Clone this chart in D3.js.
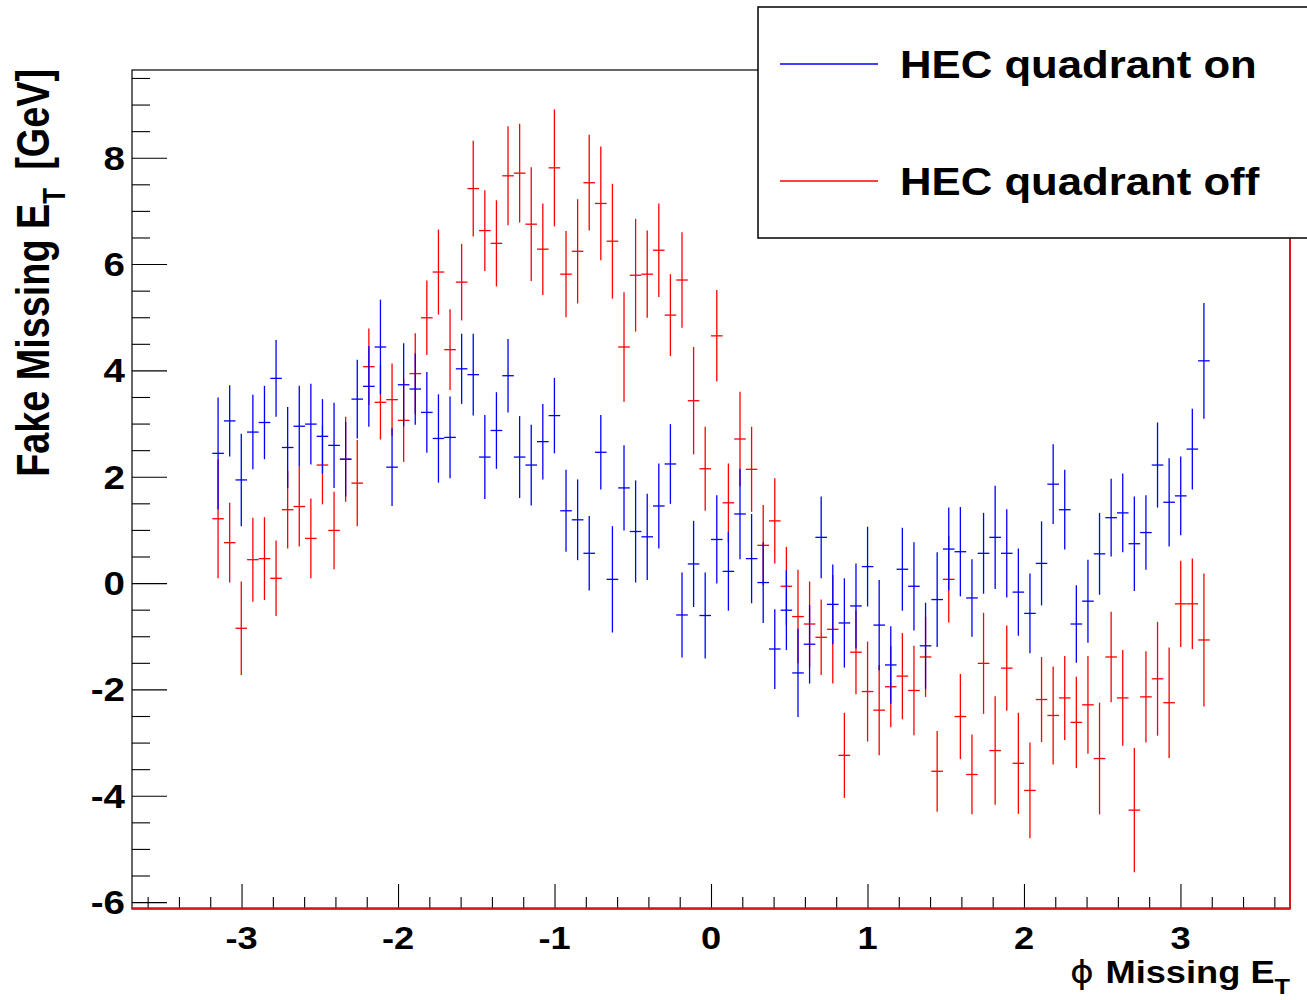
<!DOCTYPE html>
<html>
<head>
<meta charset="utf-8">
<script src="https://cdn.jsdelivr.net/npm/d3@7"></script>
<style>
  html, body { margin: 0; padding: 0; background: #fff; }
  svg { display: block; }
  text { font-family: "Liberation Sans", Arial, sans-serif; font-weight: bold; fill: #000; }
</style>
</head>
<body>
<svg id="chart" width="1307" height="1000"></svg>
<script>
// ---- Histogram definition (bins in phi) ----
const nBins = 86;
const phiMin = -3.187;
const phiMax = 3.187;

// ---- Series: HEC quadrant on (blue) ----
const onValues = [2.44,3.05,1.94,2.84,3.02,3.85,2.55,2.95,2.99,2.76,2.59,2.33,3.46,3.70,4.44,2.18,3.73,3.65,3.21,2.72,
  2.74,4.03,3.92,2.37,2.87,3.90,2.37,2.22,2.66,3.15,1.36,1.19,0.56,2.46,0.07,1.79,0.97,0.87,1.45,2.24,
  -0.60,0.36,-0.61,0.82,0.22,1.30,0.46,0.01,-1.24,-0.51,-1.69,-1.15,0.86,-0.40,-0.75,-0.43,0.31,-0.79,-1.54,0.26,
  -0.06,-1.18,-0.31,0.64,0.59,-0.28,0.56,0.86,0.56,-0.17,-0.57,0.37,1.86,1.38,-0.77,-0.34,0.55,1.23,1.32,0.74,
  0.95,2.22,1.52,1.64,2.52,4.18];
const onErrors = [1.05,0.67,0.87,0.70,0.69,0.72,0.76,0.76,0.76,0.70,0.80,0.70,0.74,0.76,0.89,0.73,0.78,0.67,0.76,0.83,
  0.77,0.66,0.77,0.79,0.72,0.69,0.77,0.76,0.71,0.71,0.77,0.76,0.70,0.70,1.00,0.80,0.96,0.81,0.80,0.75,
  0.80,0.81,0.81,0.83,0.74,0.85,0.84,0.76,0.75,0.75,0.83,0.74,0.77,0.75,0.84,0.80,0.75,0.85,0.73,0.78,
  0.83,0.81,0.89,0.78,0.84,0.73,0.76,0.97,0.83,0.82,0.75,0.79,0.75,0.75,0.73,0.78,0.77,0.73,0.74,0.89,
  0.70,0.80,0.83,0.74,0.76,1.09];

// ---- Series: HEC quadrant off (red) ----
const offValues = [1.21,0.76,-0.85,0.44,0.46,0.09,1.38,1.44,0.84,2.22,0.99,2.33,1.88,4.07,3.40,3.45,3.06,3.94,4.99,5.85,
  4.39,5.66,7.42,6.63,6.39,7.66,7.71,6.75,6.28,7.81,5.81,6.24,7.53,7.14,6.43,4.44,5.79,5.81,6.26,5.04,
  5.70,3.43,2.15,4.65,1.51,2.71,2.14,0.71,1.17,-0.06,-0.63,-0.77,-1.02,-0.87,-3.24,-1.30,-2.04,-2.39,-1.95,-1.75,
  -2.02,-1.39,-3.54,0.07,-2.51,-3.60,-1.51,-3.15,-1.60,-3.39,-3.90,-2.19,-2.49,-2.16,-2.62,-2.29,-3.30,-1.39,-2.16,-4.27,
  -2.14,-1.80,-2.25,-0.39,-0.39,-1.07];
const offErrors = [1.12,0.75,0.88,0.79,0.78,0.71,0.73,0.75,0.75,0.74,0.73,0.80,0.81,0.72,0.70,0.68,0.78,0.76,0.70,0.80,
  0.76,0.72,0.90,0.76,0.81,0.93,0.93,1.07,0.86,1.10,0.81,0.98,0.90,1.07,1.08,1.03,1.06,0.82,0.88,0.77,
  0.90,1.01,0.79,0.86,0.74,0.89,0.80,0.76,0.80,0.74,0.88,0.80,0.71,1.02,0.80,0.79,0.94,0.85,0.76,0.81,
  0.84,0.75,0.76,0.81,0.80,0.75,0.95,1.02,0.80,0.95,0.90,0.80,0.92,0.79,0.86,0.92,1.05,0.85,0.90,1.17,
  0.86,1.07,1.04,0.81,0.85,1.25];

// ---- Axes ----
const xDomain = [-3.7, 3.7];
const yDomain = [-6.13, 9.65];
const xTickLabels = [-3, -2, -1, 0, 1, 2, 3];
const yTickLabels = [-6, -4, -2, 0, 2, 4, 6, 8];
const legendLabels = ["HEC quadrant on", "HEC quadrant off"];

// ---------------------------------------------------------------
const svg = d3.select("#chart");
const L = 132, R = 1290, T = 70, B = 909;
const x = d3.scaleLinear().domain(xDomain).range([L, R]);
const y = d3.scaleLinear().domain(yDomain).range([B, T]);
const SX = 1.15; // horizontal stretch of the reference's text

const binW = (phiMax - phiMin) / nBins;
const centers = d3.range(nBins).map(i => phiMin + (i + 0.5) * binW);

function series(vals, errs) {
  return vals.map((v, i) => ({ phi: centers[i], v, e: errs[i] }));
}
const seriesList = [
  { name: legendLabels[1], color: "#ff0000", data: series(offValues, offErrors) },
  { name: legendLabels[0], color: "#0000ff", data: series(onValues, onErrors) }
];

// frame
svg.append("rect").attr("x", L).attr("y", T).attr("width", R - L).attr("height", B - T)
  .attr("fill", "none").attr("stroke", "#000").attr("stroke-width", 1.2);

// y axis ticks
const yMinor = d3.range(-6, 9.51, 0.5);
const yAxis = d3.axisRight(y).tickValues(yMinor).tickSize(18).tickFormat("");
const gy = svg.append("g").attr("transform", `translate(${L},0)`).call(yAxis);
gy.select(".domain").remove();
gy.selectAll(".tick line").attr("stroke", "#000").attr("stroke-width", 1.1)
  .attr("x2", d => (Math.abs(d % 2) < 1e-6 ? 35 : 18));

// x axis ticks
const xMinor = d3.range(-36, 37, 2).map(d => d / 10);
const xAxis = d3.axisTop(x).tickValues(xMinor).tickSize(12).tickFormat("");
const gx = svg.append("g").attr("transform", `translate(0,${B})`).call(xAxis);
gx.select(".domain").remove();
gx.selectAll(".tick line").attr("stroke", "#000").attr("stroke-width", 1.1)
  .attr("y2", d => (Math.abs(d - Math.round(d)) < 1e-6 ? -25 : -12));

// tick labels
function stretchedText(g, px, py, str, size, anchor) {
  return g.append("text")
    .attr("transform", `translate(${px},${py}) scale(${SX},1)`)
    .attr("text-anchor", anchor).attr("font-size", size).text(str);
}
yTickLabels.forEach(v => {
  stretchedText(svg, 125, y(v) + 12, v, 33.5, "end");
});
xTickLabels.forEach(v => {
  stretchedText(svg, x(v), 949, v, 31.5, "middle");
});

// axis titles
const xt = svg.append("text")
  .attr("transform", `translate(1290,983) scale(${SX},1)`)
  .attr("text-anchor", "end").attr("font-size", 31.5);
xt.append("tspan").attr("font-family", "DejaVu Sans").attr("font-weight", "normal").text("\u03D5 ");
xt.append("tspan").text("Missing E");
xt.append("tspan").attr("font-size", 22).attr("dy", 11).text("T");

const ytl = svg.append("text")
  .attr("transform", `translate(49,69) scale(1.22,1) rotate(-90)`)
  .attr("text-anchor", "end").attr("font-size", 37.8);
ytl.append("tspan").text("Fake Missing E");
ytl.append("tspan").attr("font-size", 26).attr("dy", 13).text("T");
ytl.append("tspan").attr("dy", -13).text("\u2009 [GeV]");

// data: error bars (red first, blue on top)
const plot = svg.append("g");
seriesList.forEach(s => {
  const g = plot.append("g").attr("stroke", s.color).attr("stroke-width", 1.3).attr("fill", "none");
  g.selectAll("line.v").data(s.data).join("line").attr("class", "v")
    .attr("x1", d => x(d.phi)).attr("x2", d => x(d.phi))
    .attr("y1", d => y(d.v + d.e)).attr("y2", d => y(d.v - d.e));
  g.selectAll("line.h").data(s.data).join("line").attr("class", "h")
    .attr("x1", d => x(d.phi - binW / 2)).attr("x2", d => x(d.phi + binW / 2))
    .attr("y1", d => y(d.v)).attr("y2", d => y(d.v));
});

// red frame edges (bottom and right) as in reference
svg.append("line").attr("x1", L).attr("x2", R).attr("y1", B - 1).attr("y2", B - 1)
  .attr("stroke", "#ff0000").attr("stroke-width", 1.3);
svg.append("line").attr("x1", R).attr("x2", R).attr("y1", T).attr("y2", B)
  .attr("stroke", "#ff0000").attr("stroke-width", 1.5);

// legend
const lg = svg.append("g");
lg.append("rect").attr("x", 758).attr("y", 7).attr("width", 560).attr("height", 231)
  .attr("fill", "#fff").attr("stroke", "#000").attr("stroke-width", 1.5);
const legendItems = [
  { label: legendLabels[0], color: "#0000ff", yy: 64 },
  { label: legendLabels[1], color: "#ff0000", yy: 181 }
];
legendItems.forEach(it => {
  lg.append("line").attr("x1", 780).attr("x2", 878).attr("y1", it.yy).attr("y2", it.yy)
    .attr("stroke", it.color).attr("stroke-width", 1.3);
  stretchedText(lg, 900, it.yy + 14, it.label, 38, "start");
});
</script>
</body>
</html>
